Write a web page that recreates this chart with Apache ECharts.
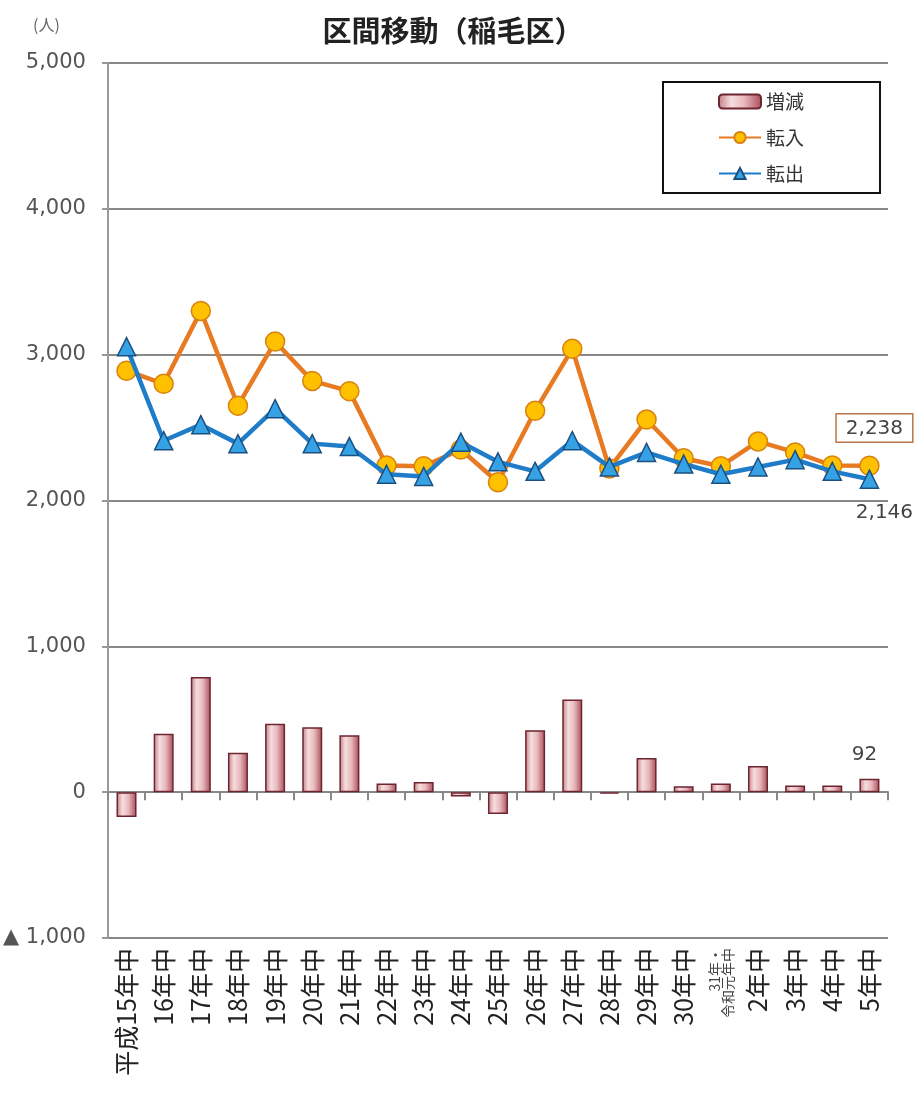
<!DOCTYPE html>
<html><head><meta charset="utf-8">
<script src="https://cdn.jsdelivr.net/npm/echarts@6/dist/echarts.min.js"></script>
<style>html,body{margin:0;padding:0;background:#fff}#c{width:923px;height:1095px}</style>
</head><body><div id="c"></div>
<script>
const categories = ['平成15年中','16年中','17年中','18年中','19年中','20年中','21年中','22年中','23年中','24年中','25年中','26年中','27年中','28年中','29年中','30年中','31年・\n令和元年中','2年中','3年中','4年中','5年中'];
const tennyu = [2890,2800,3300,2650,3090,2820,2750,2240,2235,2350,2125,2615,3040,2220,2555,2290,2235,2405,2330,2240,2238];
const tenshutsu = [3055,2410,2520,2390,2630,2390,2370,2180,2165,2400,2265,2200,2410,2230,2330,2250,2180,2230,2280,2200,2146];
const zougen = [-170,400,790,270,470,445,390,60,70,-30,-150,425,635,-10,235,40,60,180,45,45,92];
const yTicks = {min:-1000, max:5000, interval:1000};

const fmt = v => Math.abs(v).toString().replace(/\B(?=(\d{3})+(?!\d))/g, ',');
const last = categories.length - 1;

const chart = echarts.init(document.getElementById('c'));
const barColor = new echarts.graphic.LinearGradient(0,0,1,0,[
  {offset:0,color:'#c47a84'},{offset:0.3,color:'#f6dede'},{offset:0.6,color:'#e8b8bd'},{offset:1,color:'#a84a57'}]);
const numFont = '"DejaVu Sans"';

chart.setOption({
  animation:false,
  backgroundColor:'#fff',
  graphic:[
    {type:'text',x:453,y:16,style:{text:'区間移動（稲毛区）',font:'bold 29px "Noto Sans CJK JP"',fill:'#222',textAlign:'center'}},
    {type:'text',x:33,y:17,style:{text:'(人)',font:'16px "Noto Sans CJK JP"',fill:'#666'}}
  ],
  grid:{left:107,right:35,top:63,bottom:157},
  legend:{
    left:663, top:82, orient:'vertical',
    padding:[10,76,10,55], itemGap:17, itemWidth:42, itemHeight:14,
    borderColor:'#111', borderWidth:2, backgroundColor:'#fff',
    textStyle:{fontSize:19,color:'#333',fontFamily:'"Noto Sans CJK JP"'},
    data:[
      {name:'増減',icon:'roundRect'},
      {name:'転入'},
      {name:'転出'}
    ]
  },
  xAxis:[
    {type:'category',data:categories,boundaryGap:true,
     axisLine:{onZero:true,lineStyle:{color:'#888',width:2}},
     axisTick:{show:true,interval:0,length:8,lineStyle:{color:'#888',width:2}},
     axisLabel:{show:false},splitLine:{show:false}},
    {type:'category',data:categories,position:'bottom',boundaryGap:true,
     axisLine:{show:false,onZero:false},axisTick:{show:false},
     axisLabel:{rotate:90,interval:0,margin:10,fontSize:25,color:'#222',fontFamily:'"Noto Sans CJK JP"',
       formatter:v=>v.indexOf('\n')>=0 ? v.split('\n').map(s=>'{s|'+s+'}').join('\n') : v,
       rich:{s:{fontSize:14,color:'#444',lineHeight:13,fontFamily:'"Noto Sans CJK JP"'}}}}
  ],
  yAxis:{type:'value',min:yTicks.min,max:yTicks.max,interval:yTicks.interval,
    axisLine:{show:true,lineStyle:{color:'#999',width:2}},
    axisTick:{show:true,length:6,lineStyle:{color:'#999',width:2}},
    axisLabel:{margin:22,fontSize:21,color:'#555',fontFamily:numFont,verticalAlign:'middle',padding:[0,0,6,0],
      formatter:v=>v<0?'▲ '+fmt(v):fmt(v)},
    splitLine:{show:true,lineStyle:{color:'#888',width:2}}
  },
  series:[
    {name:'増減',type:'bar',xAxisIndex:0,barWidth:20,
     itemStyle:{color:barColor,borderColor:'#6d2530',borderWidth:1.5},
     data:zougen.map((v,i)=>i===last?{value:v,label:{show:true,position:'top',distance:14,offset:[-5,0],formatter:p=>fmt(p.value),fontSize:20,color:'#444',fontFamily:numFont}}:v),
     z:2},
    {name:'転入',type:'line',xAxisIndex:0,symbol:'circle',symbolSize:19,
     lineStyle:{color:'#e87a22',width:4.5},
     itemStyle:{color:'#ffc000',borderColor:'#d9820f',borderWidth:1.5},
     data:tennyu.map((v,i)=>i===last?{value:v,label:{show:true,position:'top',distance:14,offset:[5,0],formatter:p=>fmt(p.value),fontSize:20,color:'#444',fontFamily:numFont,borderColor:'#b8764a',borderWidth:1.5,backgroundColor:'#fff',padding:[4,9,3,9]}}:v),
     z:4},
    {name:'転出',type:'line',xAxisIndex:0,symbol:'triangle',symbolSize:18,
     lineStyle:{color:'#1f7cc8',width:4.5},
     itemStyle:{color:'#35a2e6',borderColor:'#1a4f80',borderWidth:1.5},
     data:tenshutsu.map((v,i)=>i===last?{value:v,label:{show:true,position:'bottom',distance:14,offset:[15,0],formatter:p=>fmt(p.value),fontSize:20,color:'#444',fontFamily:numFont}}:v),
     z:5}
  ]
});
</script></body></html>
